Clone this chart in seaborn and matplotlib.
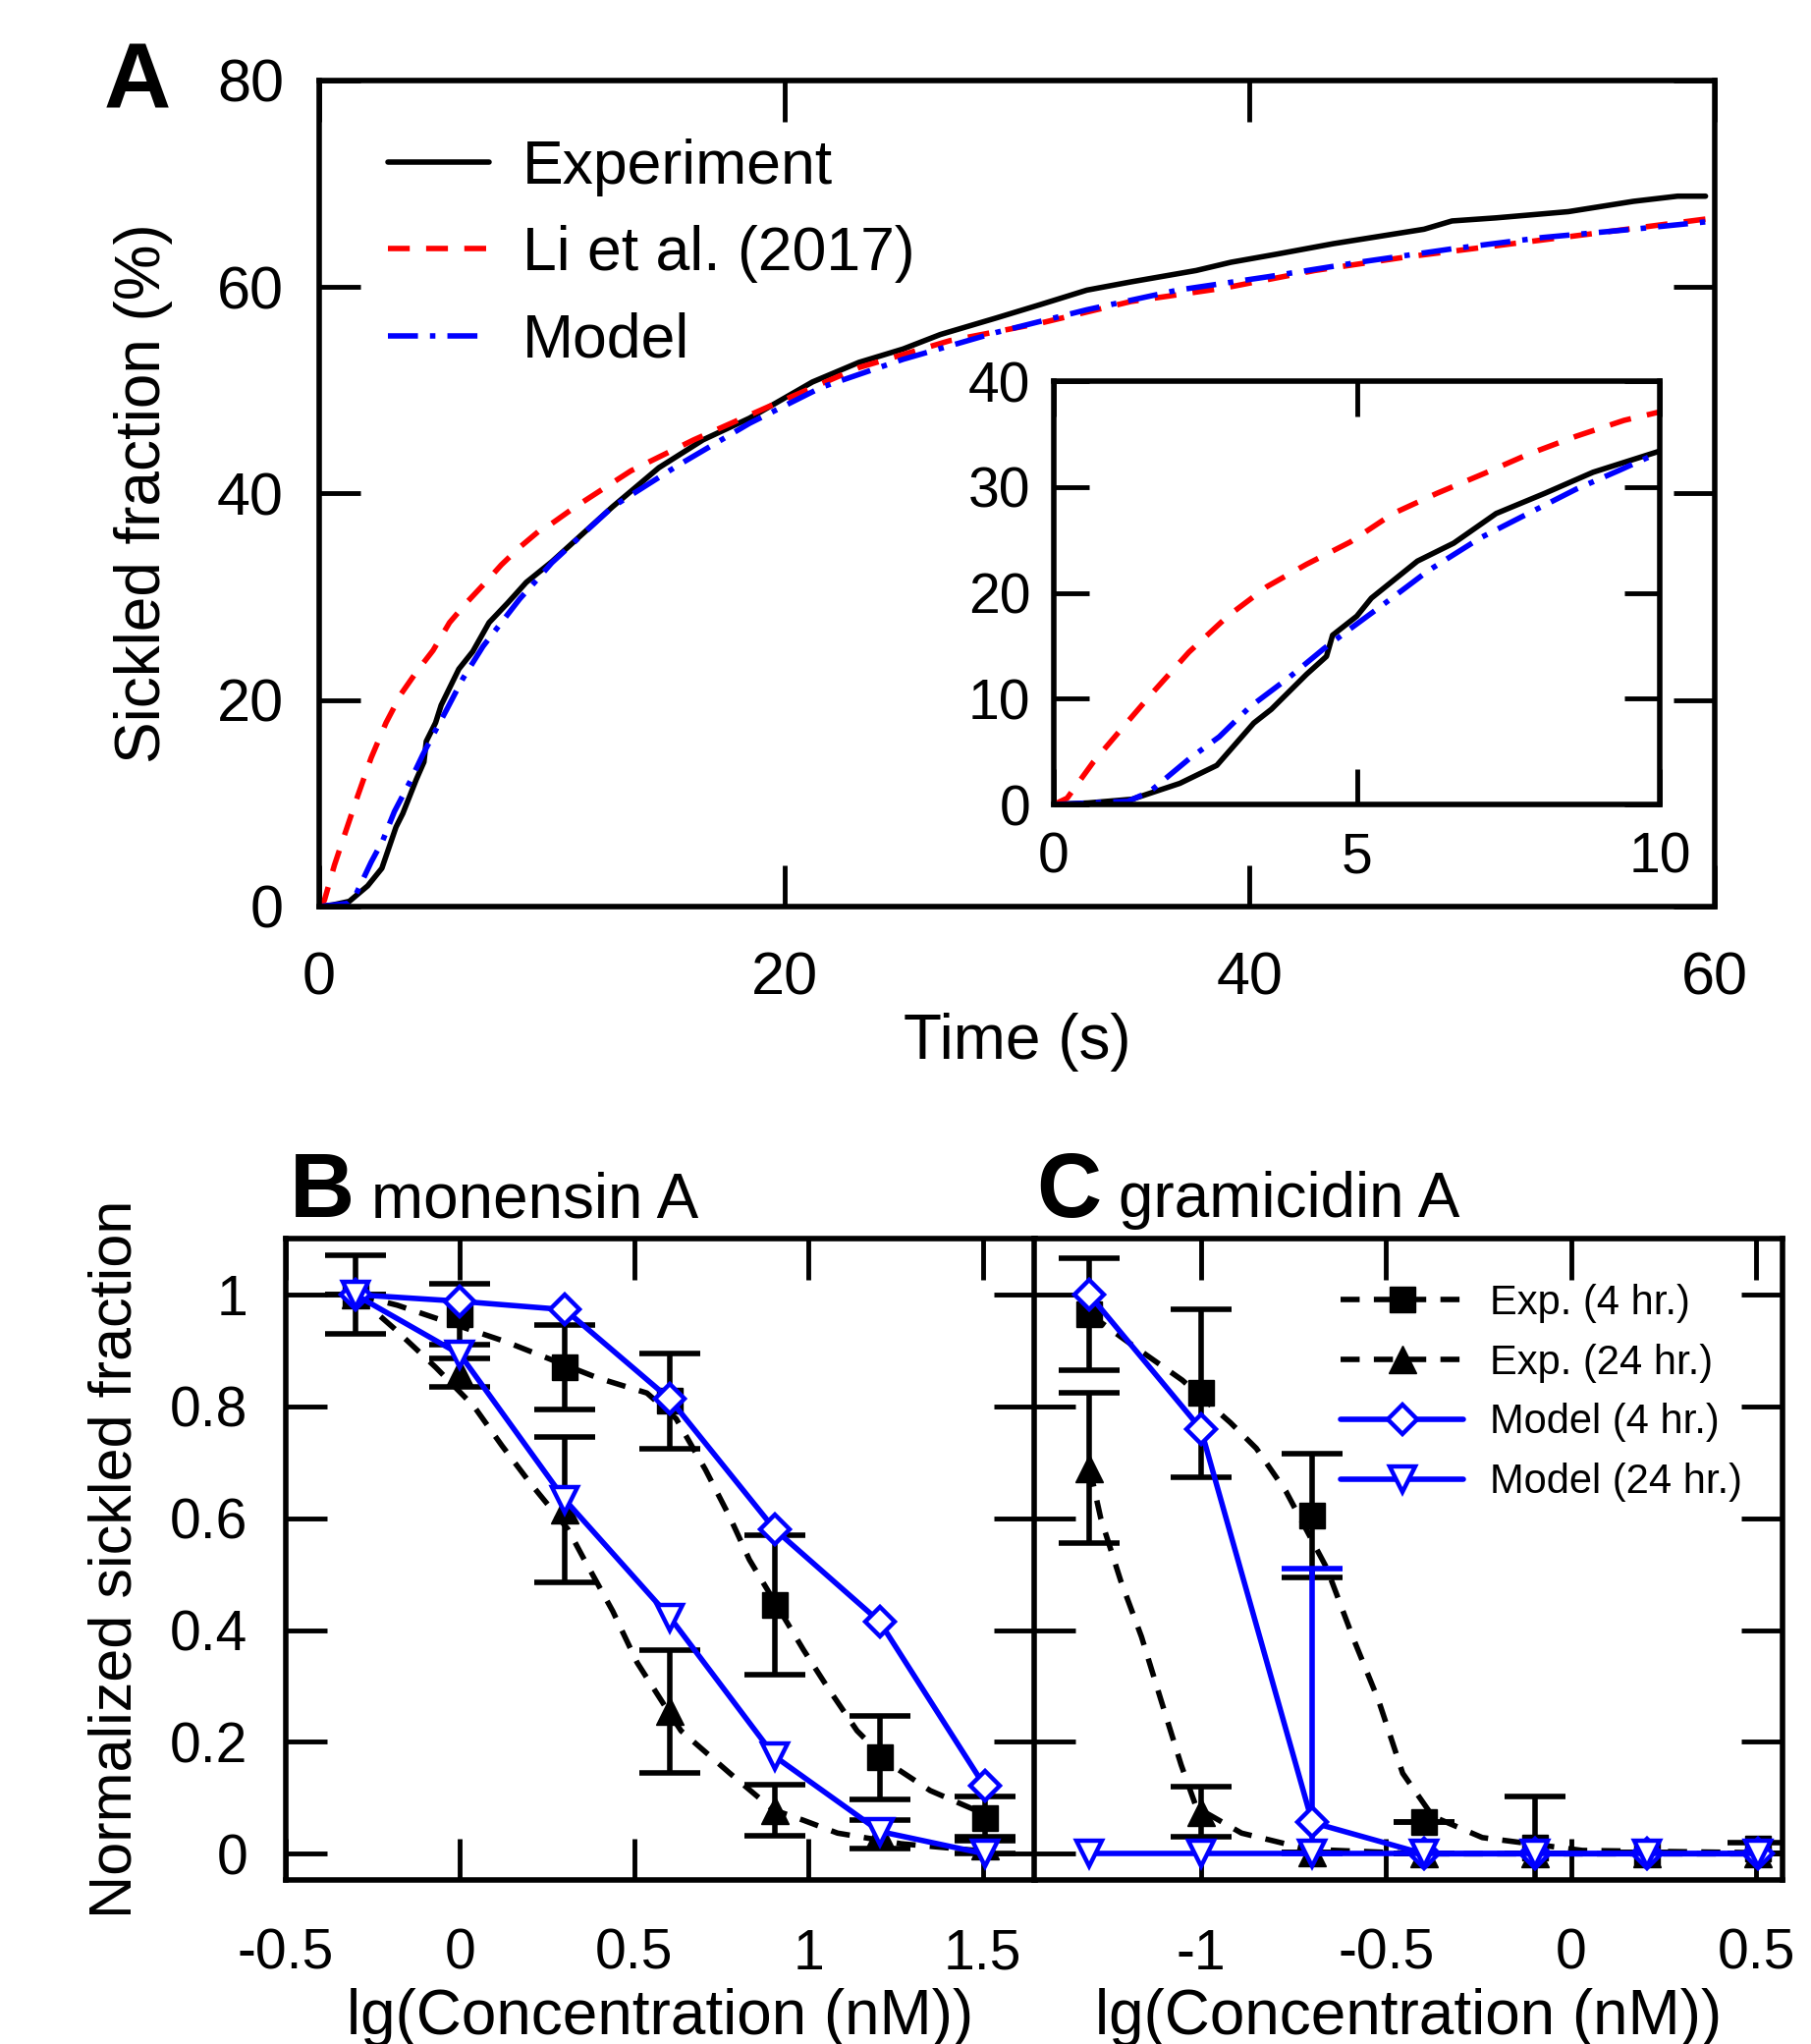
import numpy as np
import matplotlib
matplotlib.use("Agg")
import matplotlib.pyplot as plt
import seaborn as sns
from matplotlib.lines import Line2D
from matplotlib.ticker import FormatStrFormatter

# ---------------- Panel A: sickled fraction vs time ----------------
t_exp = [0, 0.57, 1.29, 2.08, 2.69, 3.3, 3.59, 4.17, 4.5, 4.6, 5.0, 5.24, 6.0, 6.6, 7.3,
         8.1, 8.9, 10.0, 12.6, 14.6, 16.5, 18.5, 21.2, 23.2, 25.1, 26.7, 29.1, 31.0, 33.0,
         34.9, 37.7, 39.2, 41.2, 43.6, 47.5, 48.7, 50.6, 53.7, 56.5, 58.4, 59.6]
frac_exp = [0, 0.15, 0.5, 2.0, 3.7, 7.7, 9.0, 12.3, 14.0, 16.0, 17.8, 19.5, 23.0, 24.7, 27.5,
            29.4, 31.4, 33.4, 38.7, 42.5, 45.2, 47.3, 50.8, 52.7, 54.0, 55.4, 57.0, 58.3, 59.7,
            60.5, 61.6, 62.4, 63.2, 64.2, 65.6, 66.4, 66.7, 67.3, 68.3, 68.8, 68.8]

t_li = [0, 0.22, 0.65, 1.11, 1.65, 2.23, 2.87, 3.52, 4.17, 4.89, 5.6, 6.32, 7.11, 7.83, 8.62,
        9.41, 10.0, 11.0, 13.4, 16.1, 19.3, 23.2, 27.1, 31.0, 34.9, 38.9, 42.8, 46.7, 50.6,
        54.5, 60.0]
frac_li = [0, 0.6, 4.0, 7.1, 10.7, 14.4, 17.8, 20.6, 22.7, 24.8, 27.5, 29.4, 31.3, 33.1, 34.8,
           36.3, 37.1, 38.7, 42.2, 45.2, 48.4, 52.2, 54.8, 56.5, 58.6, 59.9, 61.6, 62.9, 64.0,
           65.1, 66.7]

t_model = [0, 1.22, 1.58, 2.23, 2.73, 3.23, 3.88, 4.45, 4.89, 5.46, 6.18, 7.04, 7.76, 8.62,
           9.34, 10.0, 12.6, 15.4, 18.5, 21.6, 25.1, 29.1, 33.0, 36.9, 40.8, 44.7, 48.7, 52.6,
           56.5, 60.0]
frac_model = [0, 0.3, 1.2, 4.3, 6.4, 9.2, 12.0, 14.7, 16.6, 19.0, 22.1, 25.2, 27.3, 29.8,
              31.6, 33.3, 38.7, 42.7, 46.8, 50.3, 53.0, 55.6, 57.8, 59.7, 61.0, 62.4, 63.7, 64.8,
              65.6, 66.4]

# ---------------- Panel B: monensin A ----------------
lg_mon = [-0.301, 0.0, 0.301, 0.602, 0.903, 1.204, 1.505]
mon_exp4 = [1.0, 0.965, 0.87, 0.81, 0.445, 0.172, 0.063]
mon_exp4_err = [0.07, 0.055, 0.075, 0.085, 0.125, 0.074, 0.04]
mon_exp24 = [1.0, 0.86, 0.615, 0.255, 0.078, 0.035, 0.015]
mon_exp24_err = [0.0, 0.025, 0.13, 0.11, 0.045, 0.025, 0.015]
mon_model4 = [1.0, 0.988, 0.973, 0.813, 0.58, 0.415, 0.121]
mon_model24 = [1.0, 0.893, 0.633, 0.423, 0.174, 0.04, 0.0]
# dashed fitted curves
mon_fit4_x = [-0.30, -0.18, 0.13, 0.395, 0.536, 0.62, 0.704, 0.774, 0.83, 0.985, 1.055,
              1.139, 1.237, 1.349, 1.49]
mon_fit4_y = [1.0, 0.981, 0.916, 0.851, 0.824, 0.778, 0.687, 0.602, 0.526, 0.365, 0.297,
              0.22, 0.159, 0.113, 0.075]
mon_fit24_x = [-0.30, -0.19, -0.07, 0.04, 0.12, 0.20, 0.31, 0.353, 0.438, 0.508, 0.592,
               0.634, 0.774, 0.898, 0.985, 1.083, 1.265, 1.50]
mon_fit24_y = [1.0, 0.94, 0.87, 0.80, 0.73, 0.664, 0.58, 0.53, 0.434, 0.342, 0.26,
               0.22, 0.144, 0.079, 0.06, 0.037, 0.018, 0.005]

# ---------------- Panel C: gramicidin A ----------------
lg_gra = [-1.301, -1.0, -0.699, -0.398, -0.097, 0.204, 0.505]
gra_exp4 = [0.965, 0.824, 0.605, 0.056, 0.012, 0.002, 0.01]
gra_exp4_err = [0.1, 0.15, 0.11, 0.0, 0.09, 0.0, 0.01]
gra_exp24 = [0.69, 0.075, 0.003, 0.0, 0.0, 0.0, 0.0]
gra_exp24_err = [0.135, 0.045, 0.0, 0.0, 0.0, 0.0, 0.0]
gra_model4 = [1.0, 0.76, 0.056, 0.0, 0.0, 0.0, 0.0]
gra_model4_err_lo = [0, 0, 0.056, 0, 0, 0, 0]
gra_model4_err_hi = [0, 0, 0.454, 0, 0, 0, 0]
gra_model24 = [0.0, 0.0, 0.0, 0.0, 0.0, 0.0, 0.0]
gra_fit4_x = [-1.30, -1.19, -1.05, -0.92, -0.85, -0.77, -0.66, -0.59, -0.52, -0.455,
              -0.374, -0.24, 0.03, 0.50]
gra_fit4_y = [0.965, 0.912, 0.847, 0.771, 0.725, 0.648, 0.511, 0.388, 0.274, 0.144,
              0.067, 0.029, 0.006, 0.002]
gra_fit24_x = [-1.30, -1.27, -1.216, -1.16, -1.107, -1.053, -1.012, -0.89, -0.71, -0.40, 0.50]
gra_fit24_y = [0.69, 0.60, 0.488, 0.388, 0.274, 0.159, 0.083, 0.037, 0.008, 0.0, 0.0]

# ---------------- style ----------------
sns.set_style("ticks")
plt.rcParams['font.family'] = ['Liberation Sans', 'DejaVu Sans']
plt.rcParams['axes.unicode_minus'] = False
for key in ['text.color', 'axes.labelcolor', 'xtick.color', 'ytick.color', 'axes.edgecolor']:
    plt.rcParams[key] = 'black'

LW = 4.0
RED_DASH = (0, (4.0, 3.0))
BLUE_DASHDOT = (0, (5.5, 2.2, 1.0, 2.2))
BLACK_DASH = (0, (3.5, 2.6))

fig = plt.figure(figsize=(18.44, 20.81), dpi=100)
fig.patch.set_facecolor("white")


def style_ticks(ax, size, length=30, xpad=33, ypad=26):
    ax.tick_params(direction="in", length=length, width=3.5, top=True, right=True,
                   labelsize=size, color="black", labelcolor="black")
    ax.tick_params(axis="x", pad=xpad)
    ax.tick_params(axis="y", pad=ypad)
    for s in ax.spines.values():
        s.set_linewidth(4)
        s.set_color("black")


# ---------------- Panel A ----------------
axA = fig.add_axes([0.1763, 0.5565, 0.7706, 0.4041])
sns.lineplot(x=t_exp, y=frac_exp, ax=axA, color="black", lw=LW, sort=False,
             estimator=None, label="Experiment")
sns.lineplot(x=t_li, y=frac_li, ax=axA, color="red", lw=LW, linestyle=RED_DASH, sort=False,
             estimator=None, label="Li et al. (2017)")
sns.lineplot(x=t_model, y=frac_model, ax=axA, color="blue", lw=LW, linestyle=BLUE_DASHDOT,
             sort=False, estimator=None, label="Model")
axA.set_xlim(0, 60)
axA.set_ylim(0, 80)
axA.set_xticks([0, 20, 40, 60])
axA.set_yticks([0, 20, 40, 60, 80])
style_ticks(axA, 44)
axA.set_xlabel("Time (s)", fontsize=46)
axA.set_ylabel("Sickled fraction (%)", fontsize=46)
axA.xaxis.set_label_coords(0.5, -0.128)
axA.yaxis.set_label_coords(-0.105, 0.5)
axA.legend(loc="upper left", bbox_to_anchor=(0.049, 0.93), frameon=False, fontsize=45,
           handlelength=1.65, handletextpad=0.55, labelspacing=0.47, borderpad=0,
           borderaxespad=0)

# inset
axI = fig.add_axes([0.5819, 0.6064, 0.3346, 0.2071])
axI.set_facecolor("white")
sns.lineplot(x=t_exp, y=frac_exp, ax=axI, color="black", lw=LW, sort=False, estimator=None)
sns.lineplot(x=t_li, y=frac_li, ax=axI, color="red", lw=LW, linestyle=RED_DASH, sort=False,
             estimator=None)
sns.lineplot(x=t_model, y=frac_model, ax=axI, color="blue", lw=LW, linestyle=BLUE_DASHDOT,
             sort=False, estimator=None)
axI.set_xlim(0, 10)
axI.set_ylim(0, 40)
axI.set_xticks([0, 5, 10])
axI.set_yticks([0, 10, 20, 30, 40])
style_ticks(axI, 41, length=26, xpad=20, ypad=17)
axI.set_xlabel("")
axI.set_ylabel("")

fig.text(0.0575, 0.9471, "A", fontsize=68, fontweight="bold", va="baseline", ha="left")


# ---------------- Panels B and C ----------------
def draw_panel(ax, lg, exp4, exp4_err, exp24, exp24_err, m4, m24,
               fit4_x, fit4_y, fit24_x, fit24_y):
    sns.lineplot(x=fit4_x, y=fit4_y, ax=ax, color="black", lw=LW, linestyle=BLACK_DASH,
                 sort=False, estimator=None, zorder=2)
    sns.lineplot(x=fit24_x, y=fit24_y, ax=ax, color="black", lw=LW, linestyle=BLACK_DASH,
                 sort=False, estimator=None, zorder=2)
    ax.errorbar(lg, exp4, yerr=exp4_err, fmt="s", color="black", ms=19, capsize=22,
                capthick=4, elinewidth=4, zorder=3)
    ax.errorbar(lg, exp24, yerr=exp24_err, fmt="^", color="black", ms=20, capsize=22,
                capthick=4, elinewidth=4, zorder=3)
    sns.lineplot(x=lg, y=m4, ax=ax, color="blue", lw=LW, marker="D", ms=15,
                 markerfacecolor="white", markeredgecolor="blue", markeredgewidth=3.2,
                 sort=False, estimator=None, zorder=5)
    sns.lineplot(x=lg, y=m24, ax=ax, color="blue", lw=LW, marker="v", ms=19,
                 markerfacecolor="white", markeredgecolor="blue", markeredgewidth=3.2,
                 sort=False, estimator=None, zorder=5)
    ax.set_ylim(-0.047, 1.1)
    ax.set_yticks([0, 0.2, 0.4, 0.6, 0.8, 1.0])
    ax.yaxis.set_major_formatter(FormatStrFormatter("%g"))
    ax.xaxis.set_major_formatter(FormatStrFormatter("%g"))
    style_ticks(ax, 41, length=30, xpad=35, ypad=28)
    ax.set_xlabel("lg(Concentration (nM))", fontsize=46)
    ax.xaxis.set_label_coords(0.5, -0.168)


axB = fig.add_axes([0.1578, 0.0802, 0.4138, 0.3138])
draw_panel(axB, lg_mon, mon_exp4, mon_exp4_err, mon_exp24, mon_exp24_err,
           mon_model4, mon_model24, mon_fit4_x, mon_fit4_y, mon_fit24_x, mon_fit24_y)
axB.set_xlim(-0.5, 1.65)
axB.set_xticks([-0.5, 0, 0.5, 1, 1.5])
axB.set_ylabel("Normalized sickled fraction", fontsize=44)
axB.yaxis.set_label_coords(-0.19, 0.5)

axC = fig.add_axes([0.5710, 0.0802, 0.4132, 0.3138])
draw_panel(axC, lg_gra, gra_exp4, gra_exp4_err, gra_exp24, gra_exp24_err,
           gra_model4, gra_model24, gra_fit4_x, gra_fit4_y, gra_fit24_x, gra_fit24_y)
err_idx = [i for i, v in enumerate(gra_model4_err_hi) if v > 0]
axC.errorbar([lg_gra[i] for i in err_idx], [gra_model4[i] for i in err_idx],
             yerr=[[gra_model4_err_lo[i] for i in err_idx], [gra_model4_err_hi[i] for i in err_idx]],
             fmt="none", ecolor="blue", elinewidth=LW, capsize=22, capthick=LW, zorder=4)
axC.set_xlim(-1.45, 0.57)
axC.set_xticks([-1, -0.5, 0, 0.5])
axC.tick_params(axis="y", labelleft=False)
axC.set_ylabel("")

handles = [
    Line2D([], [], color="black", lw=LW, linestyle=BLACK_DASH, marker="s", ms=19),
    Line2D([], [], color="black", lw=LW, linestyle=BLACK_DASH, marker="^", ms=20),
    Line2D([], [], color="blue", lw=LW, marker="D", ms=15, markerfacecolor="white",
           markeredgecolor="blue", markeredgewidth=3.2),
    Line2D([], [], color="blue", lw=LW, marker="v", ms=19, markerfacecolor="white",
           markeredgecolor="blue", markeredgewidth=3.2),
]
labels = ["Exp. (4 hr.)", "Exp. (24 hr.)", "Model (4 hr.)", "Model (24 hr.)"]
axC.legend(handles, labels, loc="upper left", bbox_to_anchor=(0.41, 0.93), frameon=False,
           fontsize=30, handlelength=3.0, handletextpad=0.65, labelspacing=0.5,
           borderpad=0, borderaxespad=0)
if axB.get_legend() is not None:
    axB.get_legend().remove()

fig.text(0.160, 0.4046, "B", fontsize=66, fontweight="bold", va="baseline", ha="left")
fig.text(0.205, 0.4046, "monensin A", fontsize=46, va="baseline", ha="left")
fig.text(0.5721, 0.4046, "C", fontsize=66, fontweight="bold", va="baseline", ha="left")
fig.text(0.6177, 0.4046, "gramicidin A", fontsize=46, va="baseline", ha="left")

fig.savefig("out.png", dpi=100, facecolor="white")
